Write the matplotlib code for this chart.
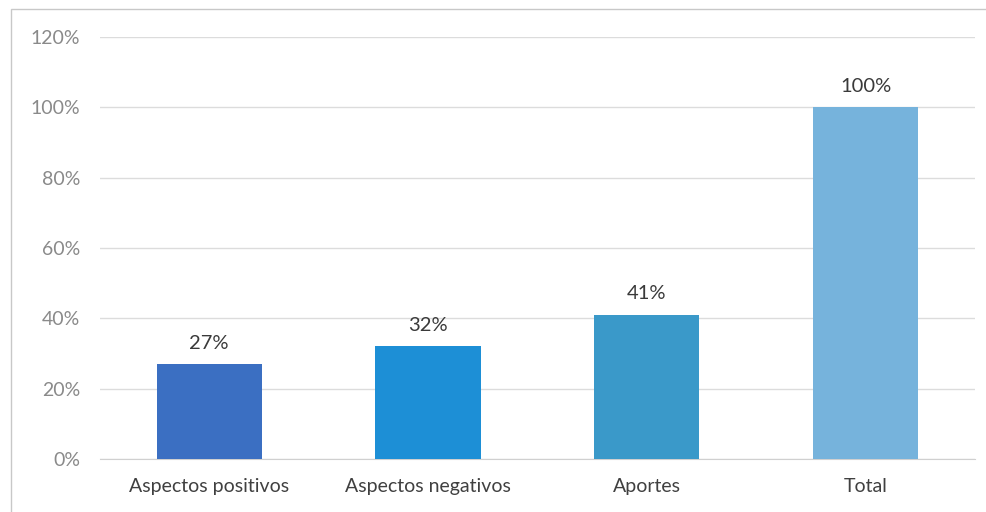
import matplotlib
matplotlib.use("Agg")
import matplotlib.pyplot as plt
from matplotlib.ticker import FuncFormatter
from matplotlib.patches import Rectangle

# datos del gráfico
categorias = ["Aspectos positivos", "Aspectos negativos", "Aportes", "Total"]
valores = [27, 32, 41, 100]
colores = ["#3b6fc2", "#1d8fd6", "#3a99c9", "#76b3dc"]

plt.rcParams['font.family'] = ['Lato', 'DejaVu Sans']

fig = plt.figure(figsize=(9.87, 5.12), dpi=100)
ax = fig.add_axes([0.101, 0.1035, 0.887, 0.8245])

# marco exterior
fig.patches.append(Rectangle((0.011, -0.01), 1.0, 0.993, transform=fig.transFigure,
                             fill=False, edgecolor="#c8c8c8", linewidth=1.0))

x = range(len(categorias))
barras = ax.bar(x, valores, width=0.48, color=colores, zorder=3)

for b, v in zip(barras, valores):
    ax.text(b.get_x() + b.get_width() / 2, v + 3.5, f"{v}%", ha="center", va="bottom",
            fontsize=14.5, color="#3a3a3a")

ax.set_ylim(0, 120)
ax.set_xlim(-0.5, len(categorias) - 0.5)
ax.set_yticks(range(0, 121, 20))
ax.yaxis.set_major_formatter(FuncFormatter(lambda v, p: f"{int(v)}%"))
ax.set_xticks(list(x))
ax.set_xticklabels(categorias)

ax.grid(axis="y", color="#dcdcdc", linewidth=1.0, zorder=0)
for s in ["top", "right", "left"]:
    ax.spines[s].set_visible(False)
ax.spines["bottom"].set_color("#d0d0d0")

ax.tick_params(axis="y", length=0, labelsize=14, labelcolor="#8a8a8a", pad=14)
ax.tick_params(axis="x", length=0, labelsize=14, labelcolor="#404040", pad=14)

fig.savefig("out.png", dpi=100)
